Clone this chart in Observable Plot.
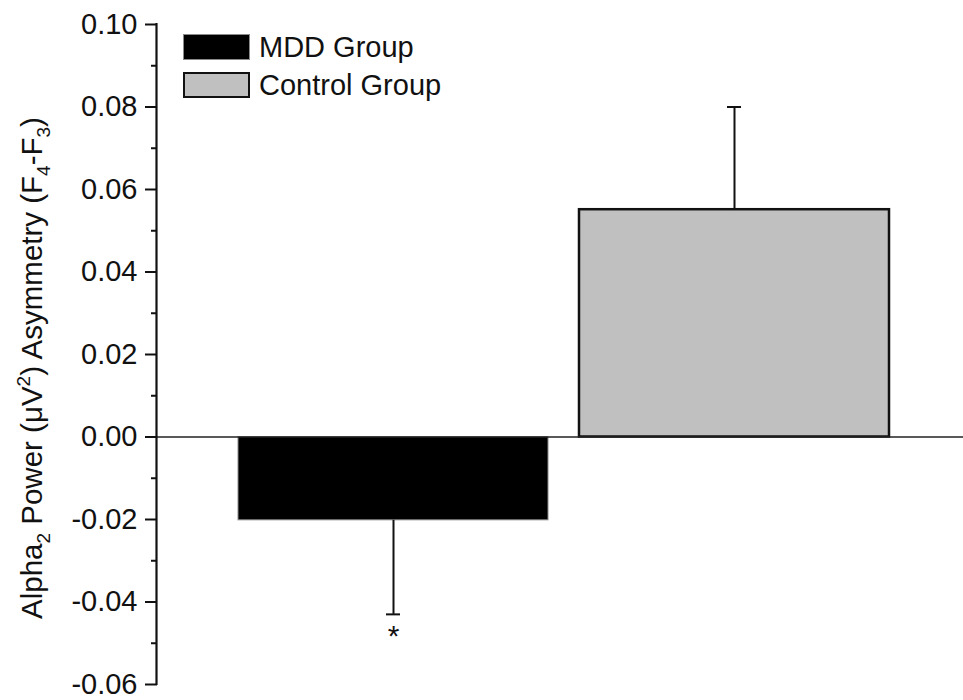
<!DOCTYPE html>
<html>
<head>
<meta charset="utf-8">
<script src="https://cdn.jsdelivr.net/npm/d3@7"></script>
<script src="https://cdn.jsdelivr.net/npm/@observablehq/plot@0.6"></script>
<style>
  body { margin: 0; background: #fff; }
  #wrap { position: relative; width: 963px; height: 700px; font-family: "Liberation Sans", Arial, sans-serif; }
  .legend { position: absolute; left: 183px; top: 28px; font-size: 29px; color: #111; }
  .legend .row { display: flex; align-items: center; height: 38px; }
  .legend .sw { width: 67px; height: 26px; box-sizing: border-box; margin-right: 9px; }
</style>
</head>
<body>
<div id="wrap"></div>
<script>
const groups = ["MDD Group", "Control Group"];
const means = [-0.0202, 0.0551];
const errors = [0.0228, 0.0249];
const fills = ["#000000", "#c0c0c0"];
const strokes = ["#8a8a8a", "#111111"];
const strokeWidths = [1, 2.5];
const significance = ["*", ""];
const yMajorTicks = [-0.06, -0.04, -0.02, 0.00, 0.02, 0.04, 0.06, 0.08, 0.10];
const yMinorTicks = [-0.05, -0.03, -0.01, 0.01, 0.03, 0.05, 0.07, 0.09];

const data = groups.map((g, i) => ({
  group: g, mean: means[i], err: errors[i],
  end: means[i] >= 0 ? means[i] + errors[i] : means[i] - errors[i],
  fill: fills[i], stroke: strokes[i], sw: strokeWidths[i], sig: significance[i]
}));

const font = "Liberation Sans, Arial, sans-serif";

const plot = Plot.plot({
  width: 963,
  height: 700,
  marginLeft: 157,
  marginRight: 0,
  marginTop: 24,
  marginBottom: 16,
  style: { fontFamily: font, background: "#fff", color: "#111", overflow: "visible" },
  x: { type: "band", domain: groups, paddingInner: 0.092, paddingOuter: 0.227, align: 0.52, axis: null },
  y: { domain: [-0.06, 0.10], axis: null },
  marks: [
    Plot.barY(data, { x: "group", y: "mean", fill: "fill", stroke: "stroke", strokeWidth: "sw" }),
    Plot.ruleY([0], { stroke: "#222", strokeWidth: 1.6 }),
    Plot.ruleX(data, { x: "group", y1: "mean", y2: "end", stroke: "#111", strokeWidth: 2 }),
    Plot.tickY(data, { x: "group", y: "end", stroke: "#111", strokeWidth: 2, insetLeft: 148, insetRight: 148 }),
    Plot.text(data, { x: "group", y: "end", text: "sig", dy: 22, fontSize: 30, fill: "#111" }),
    Plot.axisY(yMajorTicks, { tickSize: 12, tickPadding: 8, fontSize: 29, strokeWidth: 2, stroke: "#111", fill: "#111",
      tickFormat: d => (Math.abs(d) < 1e-9 ? 0 : d).toFixed(2), label: null }),
    Plot.axisY(yMinorTicks, { tickSize: 6, tickFormat: null, text: null, strokeWidth: 2, stroke: "#111", label: null })
  ]
});

const wrap = document.getElementById("wrap");
wrap.appendChild(plot);

// Axis line
const ys = plot.scale("y");
const svg = d3.select(plot);
svg.append("line")
  .attr("x1", 156.5).attr("x2", 156.5)
  .attr("y1", ys.range[0] + 1).attr("y2", ys.range[1] - 1)
  .attr("stroke", "#111").attr("stroke-width", 2.2);

// Y-axis label with sub/superscripts
const yMid = 368;
const lab = svg.append("text")
  .attr("transform", `translate(42,${yMid}) rotate(-90)`)
  .attr("text-anchor", "middle")
  .attr("font-family", font)
  .attr("font-size", 29.5)
  .attr("fill", "#111");
const parts = [
  ["Alpha", 0], ["2", 1], [" Power (\u03BCV", 0], ["2", -1], [") Asymmetry (F", 0], ["4", 1], ["-F", 0], ["3", 1], [")", 0]
];
parts.forEach(([t, s]) => {
  const ts = lab.append("tspan").text(t);
  if (s !== 0) {
    ts.attr("font-size", 19).attr("baseline-shift", s > 0 ? "-40%" : "65%");
  }
});

// Legend
const legend = document.createElement("div");
legend.className = "legend";
groups.forEach((g, i) => {
  const row = document.createElement("div");
  row.className = "row";
  const sw = document.createElement("div");
  sw.className = "sw";
  sw.style.background = fills[i];
  sw.style.border = `${i === 0 ? 1 : 2}px solid ${strokes[i]}`;
  const t = document.createElement("span");
  t.textContent = g;
  row.appendChild(sw);
  row.appendChild(t);
  legend.appendChild(row);
});
wrap.appendChild(legend);
</script>
</body>
</html>
